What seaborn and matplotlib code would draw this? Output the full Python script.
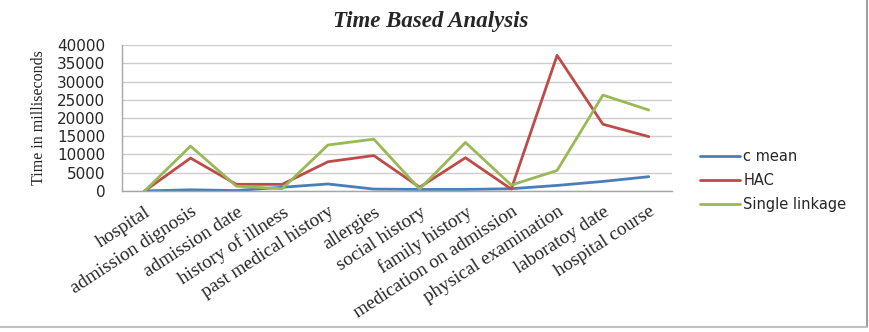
import matplotlib.pyplot as plt
import matplotlib.lines as mlines
import seaborn as sns
import pandas as pd

# Data (time in ms)
fields = ["hospital", "admission dignosis", "admission date", "history of illness",
          "past medical history", "allergies", "social history", "family history",
          "medication on admission", "physical examination", "laboratoy date",
          "hospital course"]
c_mean = [0, 300, 100, 1000, 1900, 500, 400, 400, 600, 1500, 2600, 3900]
hac = [0, 9000, 1800, 1800, 8000, 9700, 1000, 9100, 500, 37200, 18300, 14900]
single_linkage = [0, 12300, 1300, 600, 12600, 14200, 500, 13300, 1600, 5600, 26300, 22200]
series_names = ["c mean", "HAC", "Single linkage"]
yticks = [0, 5000, 10000, 15000, 20000, 25000, 30000, 35000, 40000]

rows = []
for name, vals in zip(series_names, [c_mean, hac, single_linkage]):
    for f, v in zip(fields, vals):
        rows.append({"field": f, "series": name, "time": v})
df = pd.DataFrame(rows)

sns.set_style("white")
serif = ["Liberation Serif", "DejaVu Serif"]
sans = ["DejaVu Sans"]

fig = plt.figure(figsize=(8.7, 3.32), dpi=100)
ax = fig.add_axes([0.140, 0.425, 0.632, 0.439])

palette = {"c mean": "#4a7ebb", "HAC": "#be4b48", "Single linkage": "#98b954"}
sns.lineplot(data=df, x="field", y="time", hue="series", hue_order=series_names,
             palette=palette, sort=False, linewidth=2.0, ax=ax, legend=False)

ax.set_xlim(-0.5, len(fields) - 0.5)
ax.set_ylim(0, 40000)
ax.set_yticks(yticks)
ax.set_yticklabels([str(t) for t in yticks], family=sans, fontsize=11)
ax.yaxis.grid(True, color="#cccccc", linewidth=1.0)
ax.set_axisbelow(True)
ax.tick_params(axis="y", length=0, pad=12)
ax.tick_params(axis="x", length=0, pad=9)

ax.set_xticks(range(len(fields)))
ax.set_xticklabels(fields, rotation=33, ha="right", va="top", rotation_mode="anchor",
                   family=serif, fontsize=13.8)
ax.set_xlabel("")
ax.set_ylabel("Time in milliseconds", family=serif, fontsize=11.5, labelpad=7)

for side in ["top", "right"]:
    ax.spines[side].set_visible(False)
for side in ["left", "bottom"]:
    ax.spines[side].set_color("#a6a6a6")
    ax.spines[side].set_linewidth(1.0)

fig.text(0.495, 0.935, "Time Based Analysis", ha="center", va="center",
         family=serif, fontsize=16.5, fontweight="bold", fontstyle="italic")

handles = [mlines.Line2D([], [], color=palette[n], linewidth=2.0) for n in series_names]
fig.legend(handles, series_names, loc="upper left", bbox_to_anchor=(0.805, 0.55),
           frameon=False, borderpad=0, borderaxespad=0, handlelength=2.7,
           handletextpad=0.25, labelspacing=0.6, prop={"family": "DejaVu Sans", "size": 10.5})

# outer chart border (right and bottom edges visible in the reference)
fig.add_artist(mlines.Line2D([0.996, 0.996], [0.015, 1.0], color="#a0a0a0", linewidth=1.5,
                             transform=fig.transFigure))
fig.add_artist(mlines.Line2D([0.0, 0.996], [0.015, 0.015], color="#c0c0c0", linewidth=1.5,
                             transform=fig.transFigure))

fig.savefig("out.png", dpi=100)
